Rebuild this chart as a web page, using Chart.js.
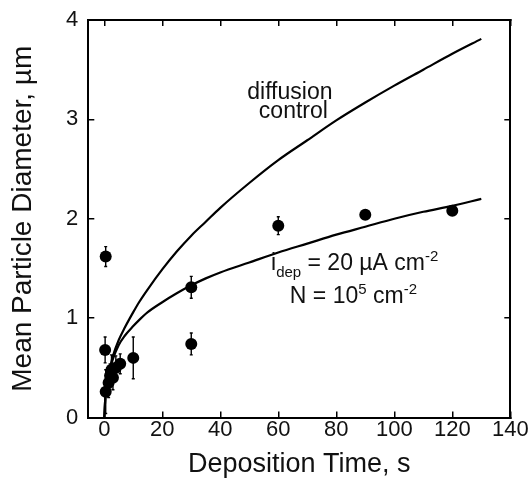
<!DOCTYPE html>
<html>
<head>
<meta charset="utf-8">
<script src="https://cdn.jsdelivr.net/npm/chart.js@4.4.0/dist/chart.umd.min.js"></script>
<style>
  html, body { margin: 0; padding: 0; background: #fff; }
</style>
</head>
<body>
<canvas id="chart" width="532" height="483"></canvas>
<script>
const FONT = '"Liberation Sans", Arial, Helvetica, sans-serif';

// measured particle sizes (time in s, diameter in um, +/- error)
const pointTime = [0.5, 0.3, 0.5, 1.5, 2, 2.5, 3, 4, 5.5, 10, 30, 30, 60, 90, 120];
const pointDiam = [1.62, 0.68, 0.26, 0.35, 0.42, 0.48, 0.40, 0.50, 0.54, 0.60, 1.31, 0.74, 1.93, 2.04, 2.08];
const pointErr  = [0.10, 0.13, 0.22, 0.15, 0.12, 0.15, 0.12, 0.12, 0.10, 0.21, 0.11, 0.11, 0.09, 0.03, 0.03];

// model curves
const curveTime     = [0, 0.5, 1, 2, 3, 5, 7, 10, 12, 15, 20, 25, 30, 35, 40, 50, 60, 70, 80, 90, 100, 110, 120, 130];
const diffusionDiam = [0, 0.26, 0.36, 0.50, 0.62, 0.78, 0.90, 1.06, 1.16, 1.29, 1.49, 1.67, 1.83, 1.97, 2.11, 2.36, 2.59, 2.79, 2.99, 3.17, 3.34, 3.50, 3.66, 3.81];
const idepDiam      = [0, 0.26, 0.36, 0.49, 0.59, 0.73, 0.82, 0.92, 0.98, 1.06, 1.16, 1.25, 1.33, 1.40, 1.46, 1.56, 1.66, 1.75, 1.84, 1.92, 2.00, 2.07, 2.13, 2.20];

const xTicks = [0, 20, 40, 60, 80, 100, 120, 140];
const yTicks = [0, 1, 2, 3, 4];

const toXY = (xs, ys) => xs.map((x, i) => ({ x: x, y: ys[i] }));

// vertical error bars, positioned through the chart scales
const errorBars = {
  id: "errorBars",
  afterDatasetsDraw(chart) {
    const { ctx, scales: { x, y } } = chart;
    ctx.save();
    ctx.strokeStyle = "#000";
    ctx.lineWidth = 1.4;
    pointTime.forEach((t, i) => {
      const px = x.getPixelForValue(t);
      const top = y.getPixelForValue(pointDiam[i] + pointErr[i]);
      const bot = y.getPixelForValue(pointDiam[i] - pointErr[i]);
      ctx.beginPath();
      ctx.moveTo(px, top); ctx.lineTo(px, bot);
      ctx.moveTo(px - 1.5, top); ctx.lineTo(px + 1.5, top);
      ctx.moveTo(px - 1.5, bot); ctx.lineTo(px + 1.5, bot);
      ctx.stroke();
    });
    ctx.restore();
  }
};

// text labels inside the plot
const labels = {
  id: "labels",
  afterDatasetsDraw(chart) {
    const { ctx, scales: { x, y } } = chart;
    ctx.save();
    ctx.fillStyle = "#111";
    ctx.textBaseline = "alphabetic";
    const big = "23px " + FONT, small = "15px " + FONT;

    ctx.font = big;
    ctx.textAlign = "center";
    ctx.fillText("diffusion", x.getPixelForValue(64), y.getPixelForValue(3.21));
    ctx.fillText("control", x.getPixelForValue(65.2), y.getPixelForValue(3.01));

    // write a run of [text, font, dy] pieces left to right
    const run = (parts, x0, y0) => {
      ctx.textAlign = "left";
      let cx = x0;
      parts.forEach(([s, f, dy]) => {
        ctx.font = f;
        ctx.fillText(s, cx, y0 + dy);
        cx += ctx.measureText(s).width;
      });
    };
    run([["i", big, 0], ["dep", small, 7], [" = 20 \u00b5A cm", big, 0], ["-2", small, -9]],
        x.getPixelForValue(57.5), y.getPixelForValue(1.48));
    run([["N = 10", big, 0], ["5", small, -9], [" cm", big, 0], ["-2", small, -9]],
        x.getPixelForValue(64), y.getPixelForValue(1.15));
    ctx.restore();
  }
};

const tickGrid = { drawOnChartArea: false, drawTicks: true, tickLength: -6, color: "#000", lineWidth: 1.5 };
const axisBorder = { color: "#000", width: 2 };

// drop the extra room Chart.js keeps for overhanging tick labels
const noOverhang = s => { s.paddingTop = 0; s.paddingBottom = 0; s.paddingLeft = 0; s.paddingRight = 0; };

new Chart(document.getElementById("chart"), {
  type: "scatter",
  data: {
    datasets: [
      {
        type: "line",
        label: "diffusion control",
        data: toXY(curveTime, diffusionDiam),
        borderColor: "#000",
        borderWidth: 2.2,
        pointRadius: 0,
        cubicInterpolationMode: "monotone",
        fill: false
      },
      {
        type: "line",
        label: "i_dep = 20 uA cm-2",
        data: toXY(curveTime, idepDiam),
        borderColor: "#000",
        borderWidth: 2.2,
        pointRadius: 0,
        cubicInterpolationMode: "monotone",
        fill: false
      },
      {
        label: "measured",
        data: toXY(pointTime, pointDiam),
        pointRadius: 6,
        pointHoverRadius: 6,
        backgroundColor: "#000",
        borderWidth: 0
      }
    ]
  },
  options: {
    responsive: false,
    animation: false,
    devicePixelRatio: 1,
    layout: { padding: { left: 0, right: 21.7, top: 20, bottom: 0 } },
    plugins: { legend: { display: false }, tooltip: { enabled: false } },
    scales: {
      x: {
        type: "linear", position: "bottom", min: -5.5, max: 140,
        afterBuildTicks: s => { s.ticks = xTicks.map(v => ({ value: v })); },
        afterFit: s => { s.height = 65.5; noOverhang(s); },
        ticks: { font: { family: FONT, size: 22 }, color: "#111", padding: 5, autoSkip: false, maxRotation: 0 },
        grid: tickGrid,
        border: axisBorder,
        title: { display: true, text: "Deposition Time, s", color: "#111",
                 font: { family: FONT, size: 27, lineHeight: 1 }, padding: { top: 0, bottom: 5 } }
      },
      x2: {
        type: "linear", position: "top", min: -5.5, max: 140,
        afterBuildTicks: s => { s.ticks = xTicks.map(v => ({ value: v })); },
        afterFit: s => { s.height = 0; noOverhang(s); },
        ticks: { display: false },
        grid: tickGrid,
        border: axisBorder
      },
      y: {
        type: "linear", position: "left", min: 0, max: 4,
        afterBuildTicks: s => { s.ticks = yTicks.map(v => ({ value: v })); },
        afterFit: s => { s.width = 88.3; noOverhang(s); },
        ticks: { font: { family: FONT, size: 22 }, color: "#111", padding: 16 },
        grid: tickGrid,
        border: axisBorder,
        title: { display: true, text: "Mean Particle Diameter, \u00b5m", color: "#111",
                 font: { family: FONT, size: 28, lineHeight: 1 }, padding: { top: 9, bottom: 0 } }
      },
      y2: {
        type: "linear", position: "right", min: 0, max: 4,
        afterBuildTicks: s => { s.ticks = yTicks.map(v => ({ value: v })); },
        afterFit: s => { s.width = 0; noOverhang(s); },
        ticks: { display: false },
        grid: tickGrid,
        border: axisBorder
      }
    }
  },
  plugins: [errorBars, labels]
});
</script>
</body>
</html>
